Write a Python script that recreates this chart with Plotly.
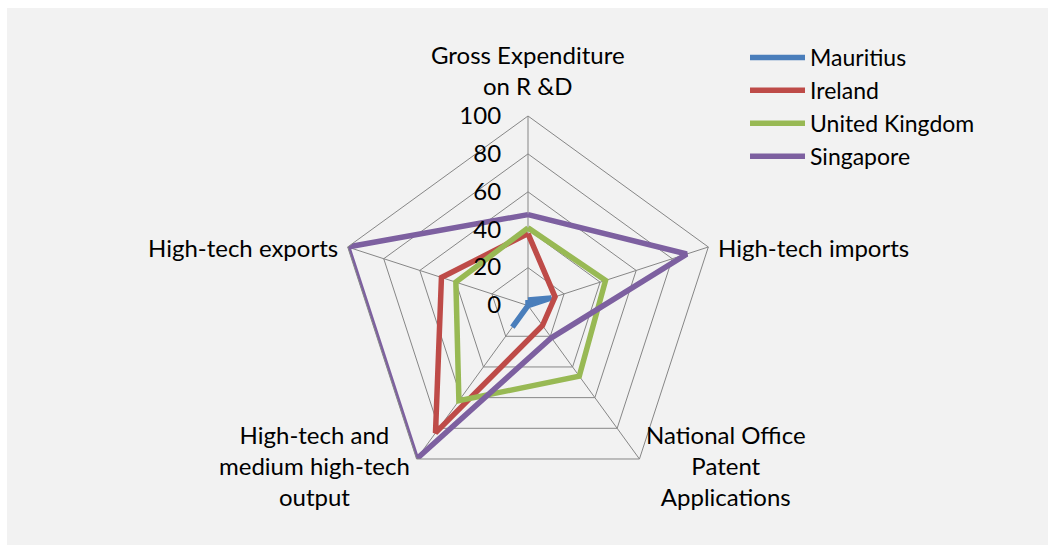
import math
import plotly.graph_objects as go

categories = ["Gross Expenditure<br>on R &D", "High-tech imports",
              "National Office<br>Patent<br>Applications",
              "High-tech and<br>medium high-tech<br>output", "High-tech exports"]
mauritius = [3, 13, 0, 14, 0]
ireland = [38, 15, 13, 83, 48]
uk = [41, 43, 46, 62, 40]
singapore = [48, 88, 21, 100, 100]
series_names = ["Mauritius", "Ireland", "United Kingdom", "Singapore"]
series_values = [mauritius, ireland, uk, singapore]
colors = ["#4A7EBB", "#BE4B48", "#98B954", "#7D60A0"]
radial_ticks = [0, 20, 40, 60, 80, 100]

FONT = "Lato"
fig = go.Figure()
for name, vals, col in zip(series_names, series_values, colors):
    fig.add_trace(go.Scatterpolar(
        r=vals + vals[:1], theta=categories + categories[:1], mode="lines",
        name=name, line=dict(color=col, width=5.5)))

W, H = 1048, 545
cx, cy, R = 528, 305.6, 189.6

# category labels placed just outside the pentagon vertices (Excel style)
annotations = []
n = len(categories)
for i, lab in enumerate(categories):
    ang = math.radians(90 - 360 * i / n)
    c, s = math.cos(ang), math.sin(ang)
    vx, vy = cx + R * c, cy - R * s
    if abs(c) < 0.1:
        xa, ya, px, py = "center", "bottom", 0, 14
    elif s > 0:
        xa, ya, px, py = ("left" if c > 0 else "right"), "middle", 8, 0
    else:
        xa, ya, px, py = ("left" if c > 0 else "right"), "middle", 5, -7
    ax_ = vx + (px if c > 0.1 else -px if c < -0.1 else 0)
    ay_ = vy - py
    annotations.append(dict(x=ax_ / W, y=1 - ay_ / H, xref="paper", yref="paper",
                            text=lab, showarrow=False, xanchor=xa, yanchor=ya,
                            align="center", font=dict(family=FONT, size=24, color="black")))

fig.update_layout(
    width=W, height=H, margin=dict(l=0, r=0, t=0, b=0),
    paper_bgcolor="white", plot_bgcolor="#F2F2F2",
    font=dict(family=FONT, size=24, color="black"),
    shapes=[dict(type="rect", xref="paper", yref="paper", x0=7 / W, x1=1, y0=0, y1=1 - 8 / H,
                 fillcolor="#F2F2F2", line=dict(width=0), layer="below")],
    annotations=annotations,
    polar=dict(
        domain=dict(x=[(cx - R) / W, (cx + R) / W], y=[(H - cy - R) / H, (H - cy + R) / H]),
        bgcolor="rgba(0,0,0,0)", gridshape="linear",
        angularaxis=dict(direction="clockwise", rotation=90, showline=True,
                         linecolor="#868686", linewidth=1, gridcolor="#868686", gridwidth=1,
                         ticks="", showticklabels=False),
        radialaxis=dict(range=[0, 100], tickvals=radial_ticks, angle=90, tickangle=90,
                        showline=False, gridcolor="#868686", gridwidth=1,
                        ticks="outside", ticklen=18, tickcolor="rgba(0,0,0,0)",
                        side="counterclockwise", tickfont=dict(size=24)),
    ),
    legend=dict(x=745 / W, y=1 - 36 / H, xanchor="left", yanchor="top",
                bgcolor="rgba(0,0,0,0)", itemwidth=55, font=dict(size=23)),
)
fig.write_html("out.html", post_script="document.body.style.margin='0';",
               config={"displayModeBar": False})
